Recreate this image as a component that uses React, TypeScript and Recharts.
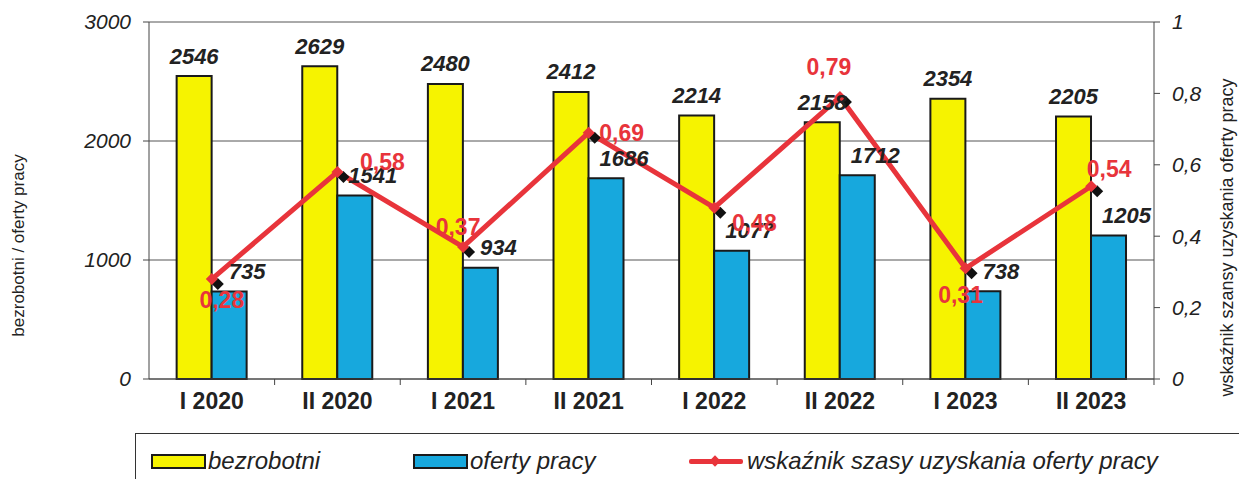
import React from 'react';
import { ComposedChart, Bar, Line, XAxis, YAxis, CartesianGrid, Legend, LabelList } from 'recharts';

const categories = ['I 2020', 'II 2020', 'I 2021', 'II 2021', 'I 2022', 'II 2022', 'I 2023', 'II 2023'];
const bezrobotni = [2546, 2629, 2480, 2412, 2214, 2158, 2354, 2205];
const ofertyPracy = [735, 1541, 934, 1686, 1077, 1712, 738, 1205];
const wskaznik = [0.28, 0.58, 0.37, 0.69, 0.48, 0.79, 0.31, 0.54];
const leftTicks = [0, 1000, 2000, 3000];
const rightTicks = [0, 0.2, 0.4, 0.6, 0.8, 1];

const data = categories.map((cat, i) => ({
  cat,
  bezrobotni: bezrobotni[i],
  oferty: ofertyPracy[i],
  wskaznik: wskaznik[i],
}));

// label placement relative to the point computed by the library
const RATIO_LABEL_SHIFT = [
  [10, 21], [45, -10], [-5, -20], [33, 0], [40, 15], [-11, -30], [-5, 27], [18, -17],
];

const CHART_W = 1239;
const CHART_H = 471;
const FONT = '"Liberation Sans", Arial, sans-serif';
const YELLOW = '#f6f300';
const BLUE = '#17a8dd';
const RED = '#e8343b';
const INK = '#222';

const fmt = (v: number) => String(v).replace('.', ',');

const YellowLabel = (props: any) => {
  const { x, y, width, value } = props;
  return (
    <text x={x + width / 2} y={y - 20} textAnchor="middle" dominantBaseline="central"
      fontFamily={FONT} fontSize={22} fontWeight="bold" fontStyle="italic" fill={INK}>
      {value}
    </text>
  );
};

const BlueLabel = (props: any) => {
  const { x, y, width, value } = props;
  return (
    <text x={x + width / 2 + 18} y={y - 20} textAnchor="middle" dominantBaseline="central"
      fontFamily={FONT} fontSize={22} fontWeight="bold" fontStyle="italic" fill={INK}>
      {value}
    </text>
  );
};

const RatioLabel = (props: any) => {
  const { x, y, value, index } = props;
  const [dx, dy] = RATIO_LABEL_SHIFT[index] || [0, -20];
  return (
    <text x={x + dx} y={y + dy} textAnchor="middle" dominantBaseline="central"
      fontFamily={FONT} fontSize={23} fontWeight="bold" fill={RED}>
      {fmt(value)}
    </text>
  );
};

const RatioDot = (props: any) => {
  const { cx, cy, index } = props;
  if (cx == null || cy == null) return null;
  const bx = cx + 6;
  const by = cy + 5;
  return (
    <g key={`d-${index}`}>
      <path d={`M${bx},${by - 6} L${bx + 6},${by} L${bx},${by + 6} L${bx - 6},${by} Z`} fill="#111" />
      <path d={`M${cx},${cy - 6} L${cx + 6},${cy} L${cx},${cy + 6} L${cx - 6},${cy} Z`} fill={RED} />
    </g>
  );
};

const XTick = (props: any) => {
  const { x, y, payload } = props;
  const half = 62.8;
  return (
    <g>
      <line x1={x + half} y1={y - 8} x2={x + half} y2={y - 2} stroke="#444" strokeWidth={1} />
      <text x={x} y={y + 22} textAnchor="middle" fontFamily={FONT} fontSize={23} fontWeight="bold" fill={INK}>
        {payload.value}
      </text>
    </g>
  );
};

// both axis titles, positioned from the left axis box and the chart's own size
const AxisTitles = (props: any) => {
  const vb = props.viewBox || { x: 0, y: 0, width: 0, height: 0 };
  const midY = vb.y + vb.height / 2;
  const lx = vb.x + 10;
  const ly = midY + 45;
  const rx = CHART_W - 20;
  const ry = midY + 37;
  return (
    <g>
      <text x={lx} y={ly} transform={`rotate(-90 ${lx} ${ly})`} textAnchor="middle" dominantBaseline="central"
        fontFamily={FONT} fontSize={17} fill={INK}>
        bezrobotni / oferty pracy
      </text>
      <text x={rx} y={ry} transform={`rotate(-90 ${rx} ${ry})`} textAnchor="middle" dominantBaseline="central"
        fontFamily={FONT} fontSize={18} fill={INK}>
        wskaźnik szansy uzyskania oferty pracy
      </text>
    </g>
  );
};

const legendText: React.CSSProperties = {
  position: 'absolute',
  top: 13,
  fontFamily: FONT,
  fontSize: 24,
  fontStyle: 'italic',
  color: INK,
  lineHeight: '28px',
  whiteSpace: 'nowrap',
};

const swatch = (left: number, color: string): React.CSSProperties => ({
  position: 'absolute',
  left,
  top: 20,
  width: 55,
  height: 15,
  boxSizing: 'border-box',
  border: '2px solid #1a1a1a',
  background: color,
});

const LegendBox = () => (
  <div style={{ position: 'relative', height: 50, width: '100%' }}>
    <div style={{
      position: 'absolute', top: 4, left: 0, right: 0, height: 46, boxSizing: 'border-box',
      borderTop: '1.5px solid #333', borderLeft: '1.5px solid #333', borderRight: '1.5px solid #333',
    }}>
      <div style={swatch(15, YELLOW)} />
      <div style={{ ...legendText, left: 72 }}>bezrobotni</div>
      <div style={swatch(277, BLUE)} />
      <div style={{ ...legendText, left: 334 }}>oferty pracy</div>
      <div style={{ position: 'absolute', left: 553, top: 25, width: 54, height: 5, borderRadius: 2, background: RED }} />
      <div style={{ position: 'absolute', left: 575, top: 23, width: 8, height: 8, background: RED, transform: 'rotate(45deg)' }} />
      <div style={{ ...legendText, left: 611 }}>wskaźnik szasy uzyskania oferty pracy</div>
    </div>
  </div>
);

export default function App() {
  return (
    <ComposedChart
      width={CHART_W}
      height={CHART_H}
      data={data}
      margin={{ top: 14, right: 0, bottom: 0, left: 0 }}
      barCategoryGap="22%"
      barGap={0}
    >
      <CartesianGrid horizontal vertical={false} stroke="#555" strokeWidth={1} yAxisId="left" />
      <XAxis dataKey="cat" height={50} tickLine={false} axisLine={{ stroke: '#444' }} tick={<XTick />} interval={0} />
      <YAxis
        yAxisId="left"
        orientation="left"
        width={141}
        domain={[0, 3000]}
        ticks={leftTicks}
        tickSize={6}
        tickMargin={12}
        axisLine={{ stroke: '#444' }}
        tickLine={{ stroke: '#444' }}
        tick={{ fontFamily: FONT, fontSize: 21, fontStyle: 'italic', fill: INK }}
        label={{ value: 'bezrobotni / oferty pracy', content: AxisTitles }}
      />
      <YAxis
        yAxisId="right"
        orientation="right"
        width={93}
        domain={[0, 1]}
        ticks={rightTicks}
        tickFormatter={fmt}
        tickSize={6}
        tickMargin={12}
        axisLine={{ stroke: '#444' }}
        tickLine={{ stroke: '#444' }}
        tick={{ fontFamily: FONT, fontSize: 21, fontStyle: 'italic', fill: INK }}
      />
      <Legend verticalAlign="bottom" align="left" content={<LegendBox />} wrapperStyle={{ left: 127, width: 1112, bottom: 0 }} />
      <Bar yAxisId="left" dataKey="bezrobotni" name="bezrobotni" fill={YELLOW} stroke="#1a1a1a" strokeWidth={2} isAnimationActive={false}>
        <LabelList dataKey="bezrobotni" content={YellowLabel} />
      </Bar>
      <Bar yAxisId="left" dataKey="oferty" name="oferty pracy" fill={BLUE} stroke="#1a1a1a" strokeWidth={2} isAnimationActive={false}>
        <LabelList dataKey="oferty" content={BlueLabel} />
      </Bar>
      <Line
        yAxisId="right"
        type="linear"
        dataKey="wskaznik"
        name="wskaźnik szasy uzyskania oferty pracy"
        stroke={RED}
        strokeWidth={5}
        dot={RatioDot}
        activeDot={false}
        isAnimationActive={false}
      >
        <LabelList dataKey="wskaznik" content={RatioLabel} />
      </Line>
    </ComposedChart>
  );
}
